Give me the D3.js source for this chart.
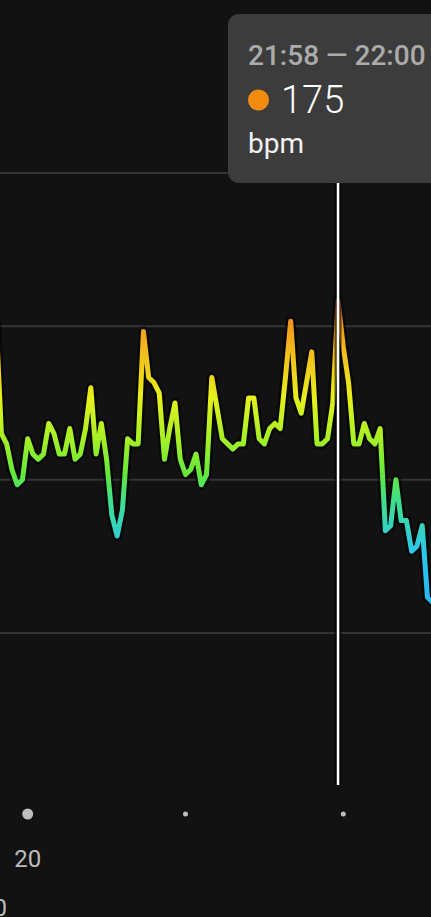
<!DOCTYPE html>
<html>
<head>
<meta charset="utf-8">
<script src="https://cdn.jsdelivr.net/npm/d3@7"></script>
<style>
  html, body { margin: 0; padding: 0; background: #121212; overflow: hidden; }
  svg { display: block; font-family: Roboto, "Noto Sans", sans-serif; }
</style>
</head>
<body>
<div id="chart"></div>
<script>
// heart rate, 2-minute bins starting 19:48
const startMinute = 19 * 60 + 48;
const stepMinutes = 2;
const bpm = [171, 149, 147, 142, 139, 140, 148, 145, 144, 145, 151, 149, 145, 145, 150, 144,
  145, 150, 158, 145, 151, 144, 133, 129, 134, 148, 147, 147, 169, 160, 159, 157,
  144, 150, 155, 144, 141, 142, 145, 139, 141, 160, 154, 148, 147, 146, 147, 147,
  156, 156, 148, 147, 150, 151, 150, 160, 171, 156, 153, 159, 165, 147, 147, 148,
  155, 175, 166, 159, 147, 147, 151, 148, 147, 150, 130, 131, 140, 132, 132, 126,
  127, 131, 117, 116];
const gridValues = [110, 140, 170, 200];
const hourTicks = [20 * 60, 21 * 60, 22 * 60];
const hourLabels = ["20"];
const selected = { from: "21:58", to: "22:00", value: 175, unit: "bpm", minute: 21 * 60 + 58 };

const width = 431;
const height = 917;

const x = d3.scaleLinear().domain([20 * 60, 22 * 60]).range([27.7, 343.3]);
const y = d3.scaleLinear().domain([110, 200]).range([633, 173]);

const svg = d3.select("#chart")
  .append("svg")
  .attr("width", width)
  .attr("height", height);

svg.append("rect").attr("width", width).attr("height", height).attr("fill", "#121212");

// colour by value
const grad = svg.append("defs").append("linearGradient")
  .attr("id", "hr")
  .attr("gradientUnits", "userSpaceOnUse")
  .attr("x1", 0).attr("x2", 0)
  .attr("y1", y(112)).attr("y2", y(178));
const stops = [
  [112, "#27aef4"], [126, "#2bc8ea"], [136, "#3fdf8c"], [141, "#62e83c"],
  [148, "#a6f026"], [156, "#e6f01c"], [165, "#f4bc1c"], [171, "#f39420"], [178, "#ef4a4e"]
];
stops.forEach(s => {
  grad.append("stop")
    .attr("offset", (y(s[0]) - y(112)) / (y(178) - y(112)))
    .attr("stop-color", s[1]);
});

// grid
svg.selectAll("line.grid")
  .data(gridValues)
  .enter()
  .append("line")
  .attr("class", "grid")
  .attr("x1", 0).attr("x2", width)
  .attr("y1", d => y(d)).attr("y2", d => y(d))
  .attr("stroke", "#343434")
  .attr("stroke-width", 2);

const line = d3.line()
  .x((d, i) => x(startMinute + i * stepMinutes))
  .y(d => y(d));

svg.append("path")
  .datum(bpm)
  .attr("d", line)
  .attr("fill", "none")
  .attr("stroke", "#000")
  .attr("stroke-opacity", 0.55)
  .attr("stroke-width", 10)
  .attr("stroke-linejoin", "round");

svg.append("path")
  .datum(bpm)
  .attr("d", line)
  .attr("fill", "none")
  .attr("stroke", "url(#hr)")
  .attr("stroke-width", 5)
  .attr("stroke-linejoin", "round")
  .attr("stroke-linecap", "round");

// selection marker
const sx = x(selected.minute);
svg.append("line")
  .attr("x1", sx).attr("x2", sx).attr("y1", 183).attr("y2", 785)
  .attr("stroke", "#000").attr("stroke-opacity", 0.6).attr("stroke-width", 7);
svg.append("line")
  .attr("x1", sx).attr("x2", sx).attr("y1", 183).attr("y2", 785)
  .attr("stroke", "#fff").attr("stroke-width", 2.5);

// hour dots
svg.selectAll("circle.tick")
  .data(hourTicks)
  .enter()
  .append("circle")
  .attr("cx", d => x(d))
  .attr("cy", 814)
  .attr("r", (d, i) => i === 0 ? 5.5 : 2.5)
  .attr("fill", "#bdbdbd");

svg.append("text")
  .attr("x", x(hourTicks[0])).attr("y", 867)
  .attr("text-anchor", "middle")
  .attr("font-size", 24)
  .attr("fill", "#bdbdbd")
  .text(hourLabels[0]);

svg.append("text")
  .attr("x", 7).attr("y", 916)
  .attr("text-anchor", "end")
  .attr("font-size", 24)
  .attr("fill", "#bdbdbd")
  .text("0");

// tooltip
const tip = svg.append("g");
tip.append("rect")
  .attr("x", 228).attr("y", 14)
  .attr("width", 230).attr("height", 169)
  .attr("rx", 11)
  .attr("fill", "#3c3c3c");
tip.append("text")
  .attr("x", 248).attr("y", 65)
  .attr("font-size", 28)
  .attr("font-weight", 500)
  .attr("fill", "#ababab")
  .text(selected.from + " \u2014 " + selected.to);
tip.append("circle")
  .attr("cx", 258.5).attr("cy", 100)
  .attr("r", 10.5)
  .attr("fill", "#f28c0f");
tip.append("text")
  .attr("x", 281).attr("y", 113)
  .attr("font-size", 38)
  .attr("font-weight", 300)
  .attr("fill", "#ffffff")
  .text(selected.value);
tip.append("text")
  .attr("x", 248).attr("y", 153)
  .attr("font-size", 28)
  .attr("fill", "#f2f2f2")
  .text(selected.unit);
</script>
</body>
</html>
